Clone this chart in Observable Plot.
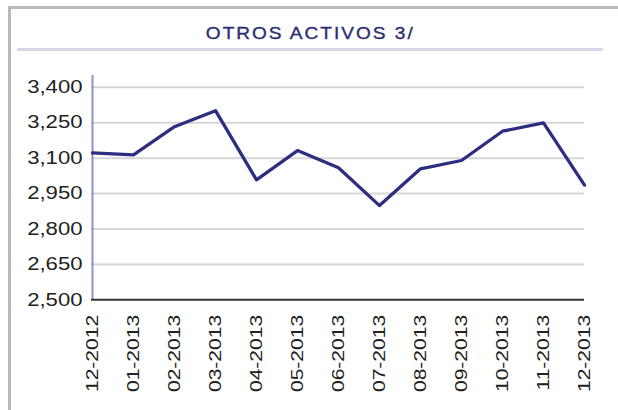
<!DOCTYPE html>
<html>
<head>
<meta charset="utf-8">
<script src="https://cdn.jsdelivr.net/npm/d3@7"></script>
<script src="https://cdn.jsdelivr.net/npm/@observablehq/plot@0.6"></script>
<style>
  html, body { margin: 0; padding: 0; background: #fff; width: 618px; height: 410px; overflow: hidden; }
  #frame { position: absolute; left: 8px; top: 6px; width: 620px; height: 420px;
           border-left: 3px solid #b9b9b9; border-top: 3px solid #b9b9b9; }
  #titlewrap { position: absolute; left: 0; top: 24px; width: 618px; text-align: center; padding-left: 3px; box-sizing: border-box; }
  #title { display: inline-block; transform: scaleX(1.12); transform-origin: center;
           font-family: "Liberation Sans", Arial, sans-serif; font-size: 17px; font-weight: normal; letter-spacing: 1.8px;
           color: #2b2d6e; line-height: 20px; -webkit-text-stroke: 0.35px #2b2d6e; }
  #sep { position: absolute; left: 17px; top: 48px; width: 586px; height: 3px; background: #d6d6e8; }
  #chart { position: absolute; left: 0; top: 60px; }
</style>
</head>
<body>
<div id="frame"></div>
<div id="titlewrap"><span id="title">OTROS ACTIVOS 3/</span></div>
<div id="sep"></div>
<div id="chart"></div>
<script>
const months = ["12-2012","01-2013","02-2013","03-2013","04-2013","05-2013","06-2013",
                "07-2013","08-2013","09-2013","10-2013","11-2013","12-2013"];
const values = [3122, 3114, 3233, 3301, 3008, 3132, 3059, 2899, 3055, 3090, 3214, 3249, 2986];
const yTicks = [2500, 2650, 2800, 2950, 3100, 3250, 3400];

const data = months.map((m, i) => ({month: m, value: values[i]}));
const fmt = d3.format(",");

const chart = Plot.plot({
  width: 618,
  height: 350,
  marginLeft: 91,
  marginRight: 34,
  marginTop: 15,
  marginBottom: 110.7,
  style: {background: "transparent", fontFamily: "'Liberation Sans', Arial, sans-serif"},
  x: {type: "point", domain: months, padding: 0},
  y: {domain: [2500, 3450]},
  marks: [
    Plot.gridY(yTicks.slice(1), {stroke: "#d6d6d6", strokeOpacity: 1, strokeWidth: 2}),
    Plot.axisY(yTicks, {tickSize: 0, tickPadding: 9, tickFormat: fmt, fontSize: 18,
      fill: "#222", label: null}),
    Plot.axisX({tickSize: 0, tickRotate: -90, tickPadding: 15, fontSize: 17,
      fill: "#222", label: null}),
    Plot.ruleX([months[0]], {y1: 2500, y2: 3450, stroke: "#9090c8", strokeWidth: 2}),
    Plot.ruleY([2500], {stroke: "#333", strokeWidth: 2}),
    Plot.line(data, {x: "month", y: "value", stroke: "#2c2f80", strokeWidth: 3.3})
  ]
});

// widen the tick label glyphs (the reference uses an extended sans face)
function widen(selector, s) {
  d3.select(chart).selectAll(selector).each(function() {
    const el = d3.select(this);
    let t = el.attr("transform");
    if (!t) {
      const x = +el.attr("x") || 0, y = +el.attr("y") || 0;
      el.attr("x", null);
      t = `translate(${x},${y})`;
      el.attr("y", null);
    }
    el.attr("transform", `${t} scale(${s},1)`);
  });
}
widen('g[aria-label="y-axis tick label"] text', 1.23);
widen('g[aria-label="x-axis tick label"] text', 1.24);

document.getElementById("chart").appendChild(chart);
</script>
</body>
</html>
